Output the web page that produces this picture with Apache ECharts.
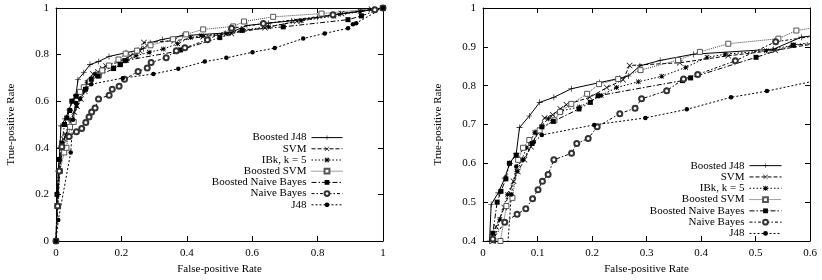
<!DOCTYPE html>
<html>
<head>
<meta charset="utf-8">
<script src="https://cdn.jsdelivr.net/npm/echarts@6/dist/echarts.min.js"></script>
<style>
  html, body { margin: 0; padding: 0; background: #fff; }
  #chart { width: 822px; height: 280px; }
</style>
</head>
<body>
<div id="chart"></div>
<script>
// ROC points [false-positive rate, true-positive rate]
const boostedJ48 = [[0,0],[0.003,0.15],[0.007,0.3],[0.012,0.4],[0.015,0.494],[0.028,0.524],[0.040,0.562],[0.049,0.6],[0.061,0.625],[0.067,0.692],[0.085,0.722],[0.104,0.757],[0.130,0.770],[0.162,0.792],[0.214,0.808],[0.251,0.819],[0.267,0.825],[0.288,0.851],[0.325,0.865],[0.386,0.881],[0.533,0.894],[0.584,0.925],[0.65,0.935],[0.72,0.945],[0.8,0.96],[0.87,0.975],[0.93,0.985],[0.97,0.993],[1,1]];
const svm = [[0,0],[0.004,0.15],[0.01,0.3],[0.018,0.4],[0.024,0.437],[0.039,0.486],[0.056,0.554],[0.064,0.579],[0.076,0.609],[0.088,0.643],[0.1,0.68],[0.113,0.717],[0.128,0.725],[0.142,0.740],[0.153,0.751],[0.196,0.770],[0.227,0.795],[0.257,0.815],[0.269,0.852],[0.361,0.859],[0.450,0.877],[0.536,0.891],[0.639,0.915],[0.736,0.943],[0.873,0.976],[0.965,0.995],[1,1]];
const ibk5 = [[0,0],[0.005,0.15],[0.012,0.3],[0.02,0.4],[0.031,0.456],[0.045,0.52],[0.0625,0.579],[0.08,0.64],[0.095,0.68],[0.12,0.715],[0.143,0.735],[0.177,0.745],[0.217,0.775],[0.245,0.795],[0.285,0.81],[0.328,0.824],[0.372,0.847],[0.411,0.873],[0.444,0.881],[0.52,0.89],[0.57,0.905],[0.65,0.92],[0.75,0.945],[0.85,0.965],[0.93,0.985],[1,1]];
const boostedSvm = [[0,0],[0.005,0.15],[0.012,0.3],[0.025,0.38],[0.032,0.4],[0.043,0.49],[0.054,0.511],[0.0645,0.609],[0.0735,0.640],[0.085,0.66],[0.104,0.685],[0.131,0.711],[0.1415,0.732],[0.162,0.753],[0.191,0.779],[0.213,0.804],[0.248,0.817],[0.289,0.840],[0.358,0.866],[0.398,0.887],[0.45,0.908],[0.542,0.921],[0.575,0.942],[0.664,0.962],[0.812,0.976],[1,1]];
const boostedNaiveBayes = [[0,0],[0.003,0.2],[0.01,0.35],[0.018,0.42],[0.026,0.5],[0.033,0.528],[0.042,0.56],[0.0485,0.6],[0.061,0.621],[0.09,0.651],[0.108,0.694],[0.129,0.708],[0.176,0.74],[0.197,0.757],[0.211,0.774],[0.366,0.813],[0.381,0.82],[0.501,0.873],[0.569,0.904],[0.695,0.919],[0.893,0.95],[0.934,0.966],[1,1]];
const naiveBayes = [[0,0],[0.005,0.15],[0.01,0.3],[0.018,0.405],[0.04,0.448],[0.0625,0.469],[0.0785,0.483],[0.091,0.509],[0.101,0.532],[0.109,0.554],[0.1195,0.571],[0.130,0.609],[0.1625,0.626],[0.172,0.651],[0.193,0.664],[0.2095,0.694],[0.251,0.728],[0.279,0.742],[0.291,0.766],[0.337,0.787],[0.368,0.817],[0.394,0.829],[0.463,0.864],[0.537,0.913],[0.634,0.933],[0.847,0.971],[0.975,0.993],[1,1]];
const j48 = [[0,0],[0.007,0.09],[0.045,0.38],[0.052,0.52],[0.061,0.592],[0.0735,0.609],[0.093,0.654],[0.108,0.673],[0.204,0.699],[0.298,0.717],[0.374,0.739],[0.455,0.77],[0.521,0.786],[0.601,0.81],[0.669,0.828],[0.756,0.869],[0.822,0.891],[0.893,0.913],[0.908,0.93],[0.918,0.935],[1,1]];

const names = ['Boosted J48', 'SVM', 'IBk, k = 5', 'Boosted SVM', 'Boosted Naive Bayes', 'Naive Bayes', 'J48'];
const curves = [boostedJ48, svm, ibk5, boostedSvm, boostedNaiveBayes, naiveBayes, j48];

const font = '"Liberation Serif", "DejaVu Serif", serif';

// line dash + marker per curve (gnuplot look)
const plusPath = 'path://M4.5,0H5.5V4.5H10V5.5H5.5V10H4.5V5.5H0V4.5H4.5Z';
const crossPath = 'path://M0,0.8L0.8,0L5,4.2L9.2,0L10,0.8L5.8,5L10,9.2L9.2,10L5,5.8L0.8,10L0,9.2L4.2,5Z';
const starPath = 'path://M4.2,0H5.8V10H4.2Z M0,4.2H10V5.8H0Z M0,1.1L1.1,0L10,8.9L8.9,10Z M8.9,0L10,1.1L1.1,10L0,8.9Z';
const styles = [
  { dash: 'solid', symbol: plusPath, size: 6, fill: '#000', border: 0 },
  { dash: [4, 2], symbol: crossPath, size: 6, fill: '#000', border: 0 },
  { dash: [1.5, 2], symbol: starPath, size: 5, fill: '#000', border: 0 },
  { dash: [1, 1], symbol: 'rect', size: 5, fill: '#fff', border: 1 },
  { dash: [5, 2, 1.5, 2], symbol: 'rect', size: 5, fill: '#000', border: 0 },
  { dash: [3, 2, 1.5, 2], symbol: 'emptyCircle', size: 5, fill: '#333', border: 0.8 },
  { dash: [2, 2], symbol: 'circle', size: 4.5, fill: '#000', border: 0 }
];

function makeSeries(xi, yi) {
  return curves.map((data, i) => ({
    name: names[i],
    type: 'line',
    xAxisIndex: xi,
    yAxisIndex: yi,
    data: data,
    clip: true,
    symbol: styles[i].symbol,
    symbolSize: styles[i].size,
    showAllSymbol: true,
    lineStyle: { color: i === 3 ? '#444' : '#000', width: 1, type: styles[i].dash },
    itemStyle: {
      color: styles[i].fill,
      borderColor: i === 3 ? '#555' : '#333',
      borderWidth: styles[i].border
    },
    emphasis: { disabled: true }
  }));
}

function axis(pos, grid, min, max, interval, label, name, gap) {
  const a = {
    type: 'value',
    gridIndex: grid,
    position: pos,
    min: min,
    max: max,
    interval: interval,
    splitLine: { show: false },
    axisLine: { show: true, onZero: false, lineStyle: { color: '#000', width: 1 } },
    axisTick: { show: true, inside: true, length: 5, lineStyle: { color: '#000' } },
    axisLabel: { show: label, margin: 7, color: '#000', fontFamily: font, fontSize: 11 }
  };
  if (name) {
    a.name = name;
    a.nameLocation = 'middle';
    a.nameGap = gap;
    a.nameTextStyle = { color: '#000', fontFamily: font, fontSize: 11 };
  }
  return a;
}

function legend(right, top, width, lh) {
  return {
    data: names, orient: 'vertical', align: 'right', right: right, top: top,
    itemWidth: width, itemHeight: 6, itemGap: 0,
    lineStyle: { width: 1 },
    textStyle: { fontFamily: font, fontSize: 11, lineHeight: lh, color: '#000' },
    selectedMode: false
  };
}

const chart = echarts.init(document.getElementById('chart'), null, { renderer: 'canvas' });
chart.setOption({
  animation: false,
  backgroundColor: '#fff',
  grid: [
    { left: 56, top: 8, width: 327, height: 236 },
    { left: 483, top: 8, width: 327, height: 236 }
  ],
  xAxis: [
    axis('bottom', 0, 0, 1, 0.2, true, 'False-positive Rate', 23),
    axis('top', 0, 0, 1, 0.2, false),
    axis('bottom', 1, 0, 0.6, 0.1, true, 'False-positive Rate', 23),
    axis('top', 1, 0, 0.6, 0.1, false)
  ],
  yAxis: [
    axis('left', 0, 0, 1, 0.2, true, 'True-positive Rate', 39),
    axis('right', 0, 0, 1, 0.2, false),
    axis('left', 1, 0.4, 1, 0.1, true, 'True-positive Rate', 39),
    axis('right', 1, 0.4, 1, 0.1, false)
  ],
  legend: [legend(474, 127, 31, 11.2), legend(35, 155, 32, 11.3)],
  series: makeSeries(0, 0).concat(makeSeries(2, 2))
});
</script>
</body>
</html>
